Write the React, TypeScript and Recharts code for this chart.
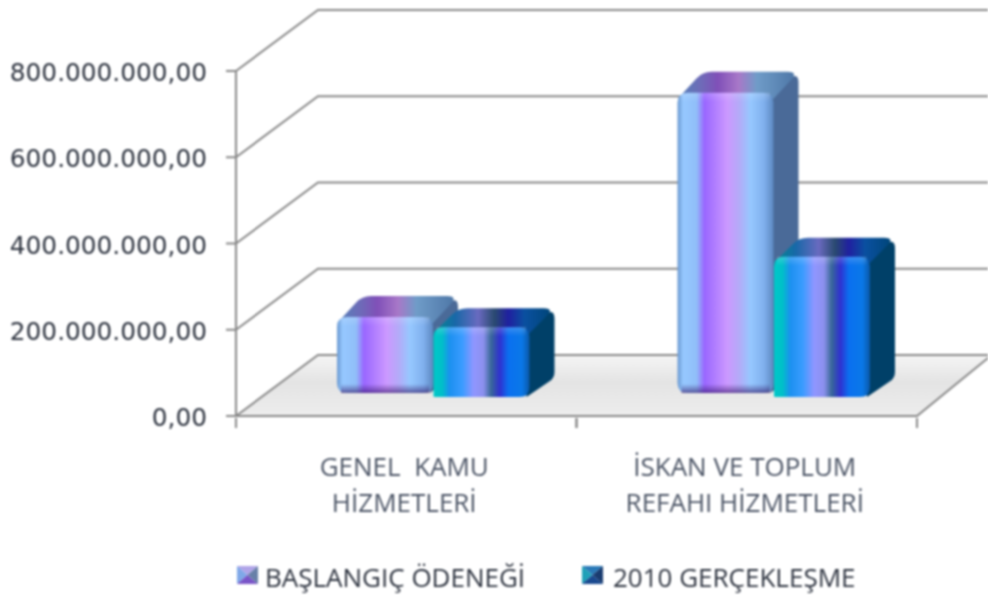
import { BarChart, Bar, XAxis, YAxis, CartesianGrid, Legend } from "recharts";

const categories = ["GENEL KAMU HİZMETLERİ", "İSKAN VE TOPLUM REFAHI HİZMETLERİ"];
const categoryLines = [
  ["GENEL\u00a0 KAMU", "HİZMETLERİ"],
  ["İSKAN VE TOPLUM", "REFAHI HİZMETLERİ"],
];
const baslangicOdenegi = [176000000, 696000000];
const gerceklesme = [162000000, 325000000];
const yTicks = [0, 200000000, 400000000, 600000000, 800000000];
const yTickLabels = ["0,00", "200.000.000,00", "400.000.000,00", "600.000.000,00", "800.000.000,00"];
const seriesNames = ["BAŞLANGIÇ ÖDENEĞİ", "2010 GERÇEKLEŞME"];

const data = categories.map((c, i) => ({
  name: c,
  baslangic: baslangicOdenegi[i],
  gerceklesme: gerceklesme[i],
}));

const FONT = "'Open Sans', sans-serif";
const LINE = "#888888";

/* polygon with rounded corners */
function roundPoly(pts: number[][], radii: number[]) {
  const n = pts.length;
  let d = "";
  pts.forEach((p, i) => {
    const prev = pts[(i + n - 1) % n];
    const next = pts[(i + 1) % n];
    const r = radii[i];
    const toward = (q: number[]) => {
      const len = Math.hypot(q[0] - p[0], q[1] - p[1]) || 1;
      const k = Math.min(r, len / 2) / len;
      return [p[0] + (q[0] - p[0]) * k, p[1] + (q[1] - p[1]) * k];
    };
    const a = toward(prev);
    const b = toward(next);
    d += `${i === 0 ? "M" : "L"}${a[0]},${a[1]} Q${p[0]},${p[1]} ${b[0]},${b[1]} `;
  });
  return d + "Z";
}

function Bar3D(props: any) {
  const { x, y, width, height, variant } = props;
  const first = variant === 0;
  const dx = 25;
  const dy = first ? 21 : 19;
  const lift = first ? 23 : 19;
  const left = x + 27;
  const right = left + width - 0.5;
  const top = y - lift;
  const bottom = y + height - lift;
  const r = 10;
  const corners = first ? [r, r, r, r] : [r, r, r, 1];
  const face = roundPoly([[left, top], [right, top], [right, bottom], [left, bottom]], corners);
  return (
    <g>
      <path
        d={roundPoly(
          [[right - 3, top], [right + dx, top - dy], [right + dx, bottom - dy], [right - 3, bottom]],
          [0, 11, 6, 0]
        )}
        fill={first ? "#4a6a98" : "#004068"}
      />
      <path
        d={roundPoly(
          [[left, top + 6], [left + dx, top - dy], [right + dx, top - dy], [right, top + 6]],
          [2, 9, 11, 0]
        )}
        fill={`url(#top${variant})`}
      />
      <path d={face} fill={`url(#front${variant})`} />
      {/* soft bevel strips along the top and bottom edge */}
      <rect x={left + 3} y={top} width={width - 7} height={9} fill={`url(#bevelTop${variant})`} />
      {first && (
        <rect x={left + 4} y={bottom - 9} width={width - 8} height={9} fill="url(#bevelBottom0)" />
      )}
    </g>
  );
}

/* wall and side lines per y tick, floor under the zero tick */
function WallLine(props: any) {
  const { x1, y1, index } = props;
  const wx = 82;
  const wy = 61;
  return (
    <g key={`wall-${index}`}>
      {y1 > 400 && (
        <polygon
          points={`${x1},${y1} ${x1 + wx},${y1 - 62} 993,${y1 - 62} 917,${y1}`}
          fill="url(#floor)"
        />
      )}
      <polyline
        points={`${x1},${y1} ${x1 + wx},${y1 - wy} 1000,${y1 - wy}`}
        fill="none"
        stroke={LINE}
        strokeWidth={2}
      />
      {y1 > 400 && (
        <polyline
          points={`${x1},${y1} 917,${y1} 993,${y1 - 62}`}
          fill="none"
          stroke={LINE}
          strokeWidth={2}
        />
      )}
    </g>
  );
}

function YTick({ y, index }: any) {
  return (
    <text
      x={207}
      y={y + 10}
      textAnchor="end"
      fill="#2e3440"
      fontSize={24.8}
      fontFamily="'DejaVu Sans', sans-serif"
    >
      {yTickLabels[index]}
    </text>
  );
}

function XTick({ x, y, index, width }: any) {
  const lines = categoryLines[index];
  const band = (width ?? 681) / categories.length;
  return (
    <g>
      <line x1={x - band / 2} y1={y - 8} x2={x - band / 2} y2={428} stroke={LINE} strokeWidth={2} />
      <line x1={x + band / 2} y1={y - 8} x2={x + band / 2} y2={428} stroke={LINE} strokeWidth={2} />
      {lines.map((l, i) => (
        <text
          key={l}
          x={x - 2}
          y={476 + i * 36}
          textAnchor="middle"
          fill="#4c5566"
          fontSize={26}
          fontFamily={FONT}
        >
          {l}
        </text>
      ))}
    </g>
  );
}

function LegendIcon({ variant }: { variant: number }) {
  const c =
    variant === 0
      ? ["#b0a4e8", "#7fa8e8", "#7a55c8", "#6880a8"]
      : ["#2a7ab8", "#20a0b8", "#1a4a90", "#1a3c70"];
  return (
    <svg width={21} height={18} style={{ display: "block" }}>
      <polygon points="0,0 21,0 10.5,9" fill={c[0]} />
      <polygon points="0,0 10.5,9 0,18" fill={c[1]} />
      <polygon points="0,18 10.5,9 21,18" fill={c[2]} />
      <polygon points="21,0 10.5,9 21,18" fill={c[3]} />
    </svg>
  );
}

function ChartLegend() {
  const items = [
    { left: 237, textLeft: 265 },
    { left: 582, textLeft: 613 },
  ];
  return (
    <div style={{ position: "relative", height: 0, width: 988 }}>
      {seriesNames.map((n, i) => (
        <div key={n}>
          <div style={{ position: "absolute", left: items[i].left, top: 4 }}>
            <LegendIcon variant={i} />
          </div>
          <span
            style={{
              position: "absolute",
              left: items[i].textLeft,
              top: -3,
              fontFamily: FONT,
              fontSize: 26,
              color: "#2e3440",
              whiteSpace: "nowrap",
            }}
          >
            {n}
          </span>
        </div>
      ))}
    </div>
  );
}

export default function App() {
  return (
    <div
      style={{
        position: "absolute",
        left: 0,
        top: 0,
        width: 988,
        height: 596,
        overflow: "hidden",
        background: "#fff",
        filter: "blur(0.8px)",
      }}
    >
      <BarChart
        width={988}
        height={596}
        data={data}
        barSize={96.5}
        barGap={0}
        margin={{ top: 71, right: 71, bottom: 0, left: 0 }}
      >
        <defs>
          <linearGradient id="floor" x1="0" y1="0" x2="0" y2="1">
            <stop offset="0%" stopColor="#f6f6f6" />
            <stop offset="45%" stopColor="#e4e4e4" />
            <stop offset="100%" stopColor="#ededed" />
          </linearGradient>
          <linearGradient id="front0" x1="0" y1="0" x2="1" y2="0">
            <stop offset="0%" stopColor="#6a98d0" />
            <stop offset="6%" stopColor="#96c8ff" />
            <stop offset="20%" stopColor="#90bef8" />
            <stop offset="28%" stopColor="#9966ff" />
            <stop offset="52%" stopColor="#cc99ff" />
            <stop offset="64%" stopColor="#b4aaf8" />
            <stop offset="76%" stopColor="#96c8ff" />
            <stop offset="90%" stopColor="#80b0ee" />
            <stop offset="100%" stopColor="#5c88c0" />
          </linearGradient>
          <linearGradient id="top0" x1="0" y1="0" x2="1" y2="0">
            <stop offset="0%" stopColor="#5482b8" />
            <stop offset="20%" stopColor="#6f6ab8" />
            <stop offset="34%" stopColor="#8050b8" />
            <stop offset="52%" stopColor="#a878c8" />
            <stop offset="68%" stopColor="#6f9cc8" />
            <stop offset="100%" stopColor="#4f78a8" />
          </linearGradient>
          <linearGradient id="bevelTop0" x1="0" y1="0" x2="0" y2="1">
            <stop offset="0%" stopColor="#ffffff" stopOpacity={0.16} />
            <stop offset="100%" stopColor="#ffffff" stopOpacity={0} />
          </linearGradient>
          <linearGradient id="bevelBottom0" x1="0" y1="0" x2="0" y2="1">
            <stop offset="0%" stopColor="#301060" stopOpacity={0} />
            <stop offset="100%" stopColor="#301060" stopOpacity={0.6} />
          </linearGradient>
          <linearGradient id="front1" x1="0" y1="0" x2="1" y2="0">
            <stop offset="0%" stopColor="#00c8c8" />
            <stop offset="9%" stopColor="#00c0c8" />
            <stop offset="17%" stopColor="#1c90f0" />
            <stop offset="30%" stopColor="#3a9cff" />
            <stop offset="42%" stopColor="#9096ff" />
            <stop offset="52%" stopColor="#8c90ee" />
            <stop offset="60%" stopColor="#386898" />
            <stop offset="69%" stopColor="#3030d0" />
            <stop offset="78%" stopColor="#0a70f0" />
            <stop offset="92%" stopColor="#0a78e8" />
            <stop offset="100%" stopColor="#0a58a8" />
          </linearGradient>
          <linearGradient id="top1" x1="0" y1="0" x2="1" y2="0">
            <stop offset="0%" stopColor="#008a90" />
            <stop offset="18%" stopColor="#1868a8" />
            <stop offset="38%" stopColor="#6a6ac0" />
            <stop offset="52%" stopColor="#2a4a70" />
            <stop offset="64%" stopColor="#2020a0" />
            <stop offset="78%" stopColor="#0a50a0" />
            <stop offset="100%" stopColor="#00467a" />
          </linearGradient>
          <linearGradient id="bevelTop1" x1="0" y1="0" x2="0" y2="1">
            <stop offset="0%" stopColor="#ffffff" stopOpacity={0.2} />
            <stop offset="100%" stopColor="#ffffff" stopOpacity={0} />
          </linearGradient>
        </defs>
        <CartesianGrid vertical={false} horizontal={WallLine} />
        <XAxis
          dataKey="name"
          height={180}
          interval={0}
          stroke={LINE}
          strokeWidth={2}
          tickLine={false}
          tickSize={8}
          tick={XTick}
        />
        <YAxis
          width={236}
          domain={[0, 800000000]}
          ticks={yTicks}
          interval={0}
          stroke={LINE}
          strokeWidth={2}
          tickLine={{ stroke: LINE, strokeWidth: 2 }}
          tickSize={10}
          tick={YTick}
        />
        <Bar
          dataKey="baslangic"
          name={seriesNames[0]}
          isAnimationActive={false}
          shape={(p: any) => <Bar3D {...p} variant={0} />}
        />
        <Bar
          dataKey="gerceklesme"
          name={seriesNames[1]}
          isAnimationActive={false}
          shape={(p: any) => <Bar3D {...p} variant={1} />}
        />
        <Legend
          content={ChartLegend}
          wrapperStyle={{ position: "absolute", left: 0, top: 562, width: 988, height: 0 }}
        />
      </BarChart>
    </div>
  );
}
